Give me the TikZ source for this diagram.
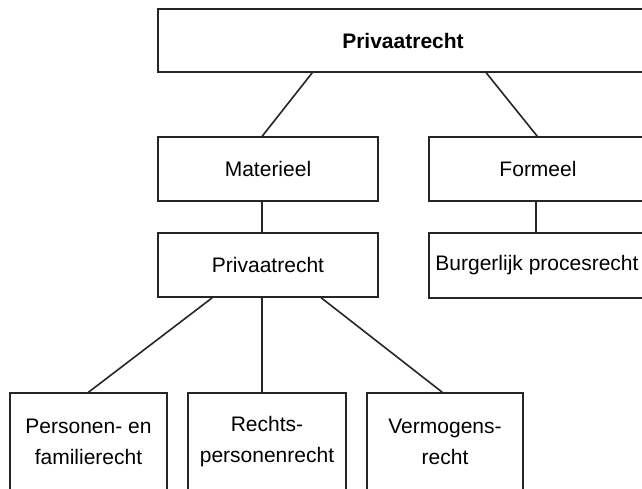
\documentclass[tikz,border=0pt]{standalone}
\usepackage{fontspec}
\setmainfont{Liberation Sans}
\begin{document}
\begin{tikzpicture}[x=1pt,y=-1pt,
  box/.style={draw=black!85, line width=1.6pt, inner sep=0pt, align=center,
    font=\fontsize{21}{31}\selectfont},
  conn/.style={draw=black!85, line width=1.6pt}]
\useasboundingbox (0,0) rectangle (642,489);
\clip (0,0) rectangle (642,489);
\fill[white] (0,0) rectangle (642,489);
% nodes
\node[box, minimum width=490pt, minimum height=63pt] (top) at (403,40.5) {\textbf{Privaatrecht}};
\node[box, minimum width=220pt, minimum height=64pt] (mat) at (268,169) {Materieel};
\node[box, minimum width=218pt, minimum height=64pt] (form) at (538,169) {Formeel};
\node[box, minimum width=220pt, minimum height=64pt] (priv) at (268,265) {Privaatrecht};
\node[box, minimum width=216pt, minimum height=65pt] (burg) at (537,265.5) {Burgerlijk procesrecht};
\node[box, minimum width=157pt, minimum height=98pt] (b1) at (88.5,442) {Personen- en\\familierecht};
\node[box, minimum width=158pt, minimum height=98pt] (b2) at (267,442) {Rechts-\\personenrecht};
\node[box, minimum width=156pt, minimum height=98pt] (b3) at (445,442) {Vermogens-\\recht};
% connectors
\draw[conn] ([xshift=155pt]top.south west) -- ([xshift=105pt]mat.north west);
\draw[conn] ([xshift=329pt]top.south west) -- ([xshift=109pt]form.north west);
\draw[conn] ([xshift=105pt]mat.south west) -- ([xshift=105pt]priv.north west);
\draw[conn] ([xshift=108pt]form.south west) -- ([xshift=108pt]burg.north west);
\draw[conn] ([xshift=55pt]priv.south west) -- (b1.north);
\draw[conn] ([xshift=105pt]priv.south west) -- ([xshift=75pt]b2.north west);
\draw[conn] ([xshift=164pt]priv.south west) -- ([xshift=76pt]b3.north west);
\end{tikzpicture}
\end{document}
